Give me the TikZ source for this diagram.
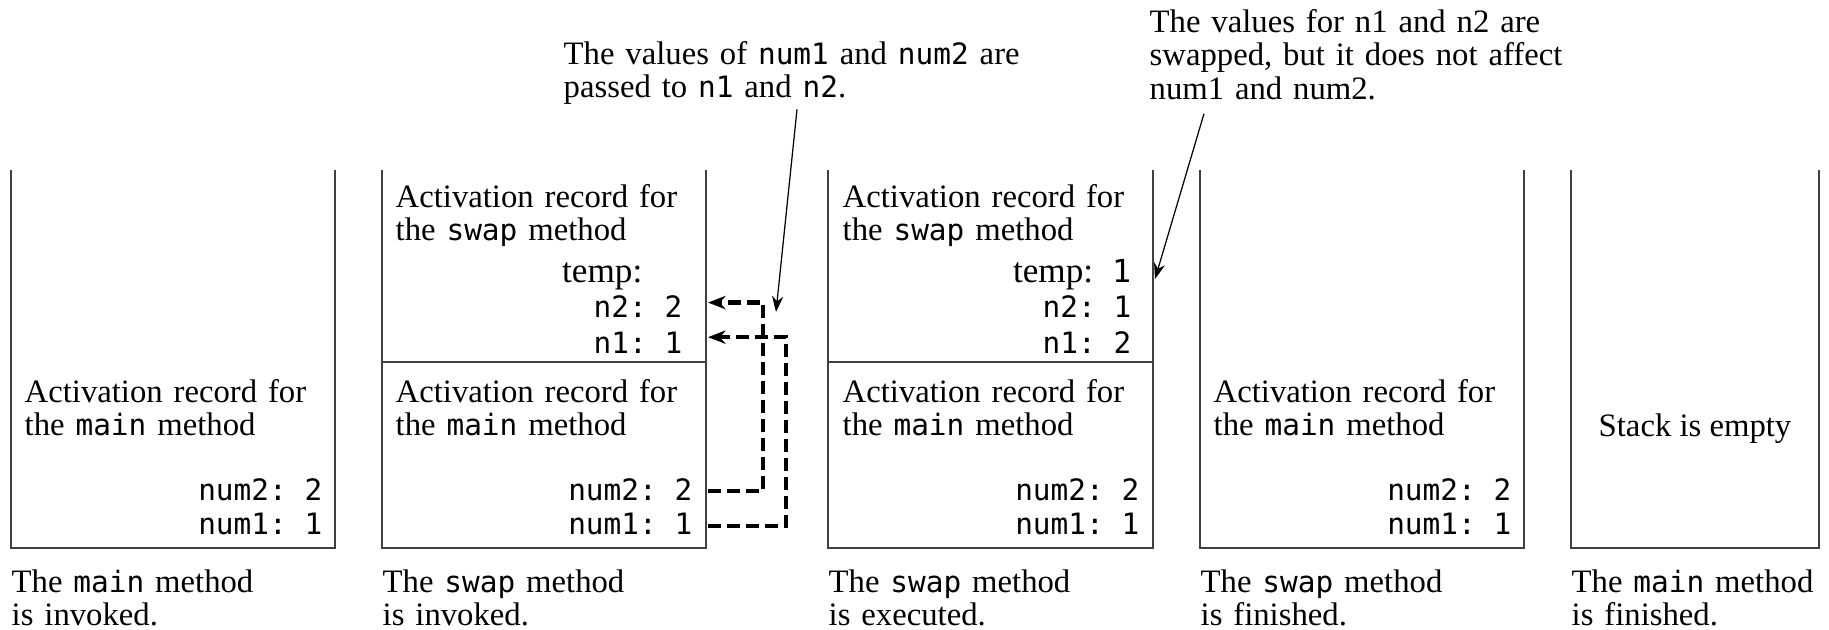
\documentclass[tikz,border=0pt]{standalone}
\usepackage{fontspec}
\setmainfont{Liberation Serif}
\setmonofont{DejaVu Sans Mono}[Scale=0.9]
\usetikzlibrary{arrows.meta}

\begin{document}
\begin{tikzpicture}[x=0.01cm, y=-0.01cm,
    font=\fontsize{9.3}{9.6}\selectfont,
    wall/.style={draw=black!75, line width=0.5pt},
    rec/.style={text width=3.2cm, align=left, anchor=base west, inner sep=0pt},
    var/.style={anchor=base east, inner sep=0pt, font=\fontsize{9.3}{9.6}\selectfont\ttfamily},
    note/.style={text width=#1, align=left, anchor=base west, inner sep=0pt},
    pass/.style={line width=1.2pt, dash pattern=on 3.7pt off 1.7pt, -{Stealth[length=5pt, width=3.8pt]}},
    callout/.style={line width=0.35pt, -{Stealth[length=4.5pt, width=3.2pt]}}]
    \useasboundingbox (0,0) rectangle (1829,630);

    % Stack walls
    \draw[wall] (11,170) |- (335,548) -- (335,170);
    \draw[wall] (382,170) |- (706,548) -- (706,170);
    \draw[wall] (382,362) -- (706,362);
    \draw[wall] (828,170) |- (1153,548) -- (1153,170);
    \draw[wall] (828,362) -- (1153,362);
    \draw[wall] (1200,170) |- (1524,548) -- (1524,170);
    \draw[wall] (1571,170) |- (1819,548) -- (1819,170);

    % Stack 1
    \node[rec] (mainA) at (24,402) {Activation record for\\the \texttt{main} method};
    \node[var] (num2A) at (323,500) {num2: 2};
    \node[var] (num1A) at (323,534) {num1: 1};
    \node[rec] (capA) at (11,592) {The \texttt{main} method\\is invoked.};

    % Stack 2
    \node[rec] (swapB) at (395,207) {Activation record for\\the \texttt{swap} method};
    \node[var, font=\rmfamily] (tempB) at (643,282) {temp:};
    \node[var] (n2B) at (683,317) {n2: 2};
    \node[var] (n1B) at (683,353) {n1: 1};
    \node[rec] (mainB) at (395,402) {Activation record for\\the \texttt{main} method};
    \node[var] (num2B) at (693,500) {num2: 2};
    \node[var] (num1B) at (693,534) {num1: 1};
    \node[rec] (capB) at (382,592) {The \texttt{swap} method\\is invoked.};

    % Stack 3
    \node[rec] (swapC) at (842,207) {Activation record for\\the \texttt{swap} method};
    \node[var, font=\rmfamily] (tempC) at (1132,282) {temp:\texttt{~1}};
    \node[var] (n2C) at (1132,317) {n2: 1};
    \node[var] (n1C) at (1132,353) {n1: 2};
    \node[rec] (mainC) at (842,402) {Activation record for\\the \texttt{main} method};
    \node[var] (num2C) at (1140,500) {num2: 2};
    \node[var] (num1C) at (1140,534) {num1: 1};
    \node[rec] (capC) at (828,592) {The \texttt{swap} method\\is executed.};

    % Stack 4
    \node[rec] (mainD) at (1213,402) {Activation record for\\the \texttt{main} method};
    \node[var] (num2D) at (1512,500) {num2: 2};
    \node[var] (num1D) at (1512,534) {num1: 1};
    \node[rec] (capD) at (1200,592) {The \texttt{swap} method\\is finished.};

    % Stack 5
    \node[anchor=base, inner sep=0pt] (emptyE) at (1695,436) {Stack is empty};
    \node[rec] (capE) at (1571,592) {The \texttt{main} method\\is finished.};

    % Passing the values
    \coordinate (wallB) at (708,170);
    \draw[pass] ([yshift=2.5pt]num2B.base east -| wallB) -- ++(55,0)
        |- ([yshift=4.1pt]n2B.base east -| wallB);
    \draw[pass] ([yshift=2.3pt]num1B.base east -| wallB) -- ++(78,0)
        |- ([yshift=4.5pt]n1B.base east -| wallB);

    % Notes
    \node[note=4.6cm] (noteB) at (563,64) {The values of \texttt{num1} and \texttt{num2} are\\passed to \texttt{n1} and \texttt{n2}.};
    \node[note=4.2cm] (noteC) at (1149,32) {The values for n1 and n2 are\\swapped, but it does not affect\\num1 and num2.};
    \coordinate (tipB) at (776,312);
    \coordinate (tipC) at (1155,279);
    \draw[callout] (noteB.south west) ++(234,4) -- (tipB);
    \draw[callout] (noteC.south west) ++(55,13) -- (tipC);
\end{tikzpicture}
\end{document}
